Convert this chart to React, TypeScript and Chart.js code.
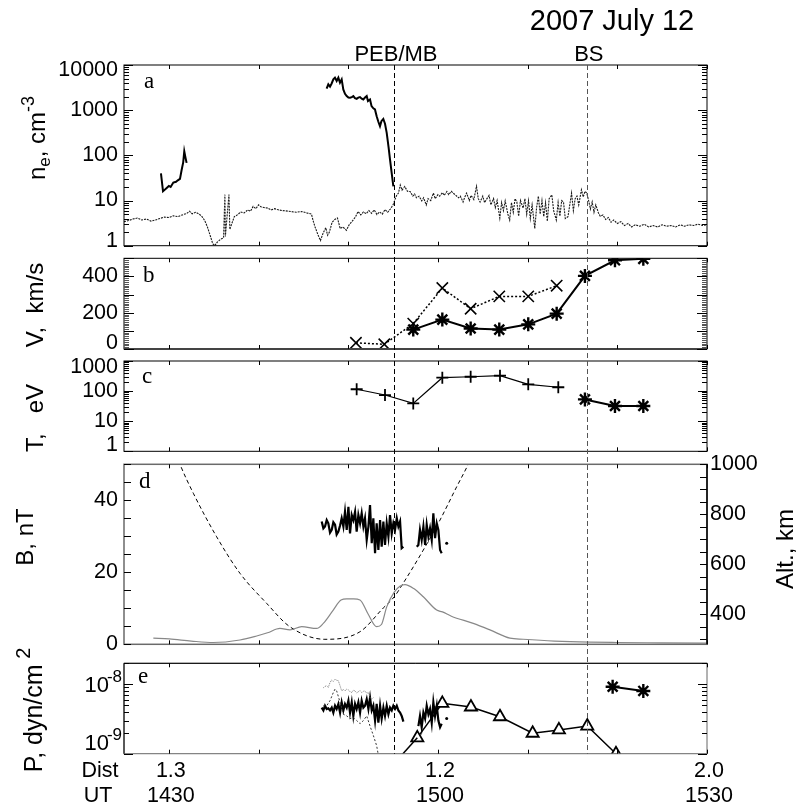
import React, { useEffect, useRef } from "react";
import { Chart, registerables } from "chart.js";
Chart.register(...registerables);

const W = 796;
const H = 810;
const SANS = '"Liberation Sans", Arial, Helvetica, sans-serif';
const SERIF = '"Liberation Serif", "Times New Roman", serif';

// ---------- x axis (minutes after 14:00 UT) ----------
const X_MIN = 25;
const X_MAX = 90;
const xTickMinutes = [30, 40, 50, 60, 70, 80, 90];
const xLabelMinutes = [30, 60, 90];
const utLabels = ["1430", "1500", "1530"];
const distLabels = ["1.3", "1.2", "2.0"];
const pebMinute = 55.1;
const bsMinute = 76.6;

type Pt = [number, number];

// ---------- panel a: electron density ----------
const neTicks = [1, 10, 100, 1000, 10000];
const neTickLabels = ["1", "10", "100", "1000", "10000"];
const neEarly: Pt[] = [[29.12,40],[29.35,16],[29.5,17],[29.76,19],[30.0,21],[30.2,20],[30.5,25],[30.8,26],[31.0,28],[31.24,30],[31.43,48],[31.6,70],[31.72,123],[31.85,90],[31.98,68]];
const neDense: Pt[] = [[47.59,2990],[47.78,3720],[47.97,3310],[48.15,3900],[48.34,4810],[48.52,5250],[48.71,4410],[48.9,5250],[49.08,4050],[49.27,4800],[49.45,2885],[49.64,2300],[49.83,2050],[50.02,1900],[50.2,1880],[50.4,1950],[50.57,2050],[50.75,1850],[50.94,1790],[51.12,1900],[51.31,1950],[51.5,1800],[51.68,1730],[51.87,1900],[52.06,2050],[52.2,1590],[52.43,1730],[52.6,1230],[52.8,1100],[52.98,1040],[53.17,736],[53.35,560],[53.54,440],[53.7,570],[53.91,640],[54.1,500],[54.29,314],[54.5,150],[54.66,80],[54.85,40],[55.03,20.5]];
const neWave: Pt[] = [[25,3.4],[25.5,3.6],[26,3.9],[26.5,4.1],[27,3.7],[27.5,3.9],[28,3.5],[28.5,3.7],[29,4.0],[29.5,4.3],[30,4.2],[30.5,4.6],[31,4.4],[31.5,4.8],[32,5.2],[32.3,5.8],[32.6,5.1],[33,5.5],[33.4,5.0],[33.7,4.4],[34.0,3.6],[34.3,2.6],[34.6,1.7],[34.9,1.1],[35.1,1.0],[35.4,1.2],[35.8,1.4],[36.1,1.5],[36.25,13.5],[36.3,1.6],[36.7,13.5],[36.8,2.3],[37.0,3.0],[37.3,4.4],[37.7,4.9],[38.0,5.6],[38.4,5.3],[38.8,6.2],[39.1,5.8],[39.4,7.4],[39.7,6.6],[40.0,8.0],[40.3,7.2],[40.6,7.0],[41.0,6.8],[41.4,6.2],[41.8,6.6],[42.1,6.3],[42.6,6.0],[43.0,5.9],[43.6,5.7],[44.2,5.5],[44.8,5.7],[45.4,5.3],[45.9,5.0],[46.1,3.5],[46.3,2.6],[46.6,1.8],[46.9,1.3],[47.2,1.9],[47.5,2.5],[47.7,1.7],[47.9,2.0],[48.2,3.3],[48.5,3.8],[48.8,4.1],[49.1,2.4],[49.4,2.6],[49.8,2.2],[50.1,2.9],[50.4,3.4],[50.8,4.3],[51.1,5.7],[51.4,4.8],[51.7,5.6],[52.0,5.1],[52.3,6.0],[52.6,5.2],[52.9,6.2],[53.2,4.9],[53.5,5.6],[53.8,5.0],[54.1,6.3],[54.4,5.5],[54.7,6.5],[55.0,8.0],[55.2,10.4],[55.4,13],[55.6,14.6],[55.8,22],[56.0,17],[56.3,20.5],[56.6,16],[56.9,15.8],[57.2,12.5],[57.4,14],[57.6,11.5],[57.9,12.5],[58.2,9.8],[58.4,11.5],[58.7,8.0],[58.9,11],[59.2,10],[59.5,14.6],[59.7,11],[60.0,13.5],[60.2,12.5],[60.5,15],[60.7,13],[61.0,15.8],[61.2,13.5],[61.5,16],[61.7,14.6],[62.0,13],[62.3,11.5],[62.5,12.5],[62.8,9.3],[63.0,12],[63.2,14.6],[63.5,10],[63.7,13],[64.0,10.5],[64.3,20.5],[64.5,11],[64.7,9.3],[65.0,12.5],[65.2,9],[65.4,10.5],[65.7,13],[65.9,8],[66.2,11],[66.4,7],[66.6,10],[66.9,4.1],[67.1,9],[67.3,6],[67.5,9.8],[67.8,5],[68.0,3.7],[68.2,9],[68.4,5.5],[68.6,11],[68.8,9.3],[69.0,4.5],[69.2,10],[69.5,6.8],[69.7,11],[69.9,5],[70.1,9.8],[70.3,4],[70.5,8],[70.8,2.4],[71.0,7],[71.2,12.5],[71.4,5],[71.6,10],[71.8,4.4],[72.0,9],[72.2,3.5],[72.4,11],[72.7,13.4],[72.9,6],[73.2,3.7],[73.4,9],[73.6,4.5],[73.8,10],[74.0,9.3],[74.2,4],[74.5,4.4],[74.7,8],[74.9,14.6],[75.1,6],[75.3,11],[75.5,12.5],[75.7,8],[76.0,17.3],[76.2,12],[76.4,16],[76.6,14.6],[76.8,10],[77.0,6.5],[77.2,9.3],[77.4,5.5],[77.6,8],[77.9,5.3],[78.1,4.5],[78.4,4.8],[78.7,3.8],[79.0,4.2],[79.3,3.3],[79.6,3.7],[80.0,3.1],[80.4,3.4],[80.8,2.8],[81.2,3.1],[81.6,2.6],[82.0,2.9],[82.5,2.7],[83,3.0],[83.5,2.6],[84,2.8],[84.5,2.6],[85,2.9],[85.5,2.7],[86,2.8],[86.5,2.6],[87,2.9],[87.5,2.7],[88,2.9],[88.5,2.8],[89,3.0],[89.5,2.8],[90,2.9]];

// ---------- panel b: velocity ----------
const vMajor = [0, 100, 200, 300, 400, 500];
const vLabelValues = [0, 200, 400];
const vCross: Pt[] = [[50.86,34],[54.02,26],[57.25,140],[60.49,336],[63.65,222],[66.84,290],[70.07,290],[73.24,349]];
const vStar: Pt[] = [[57.25,107],[60.49,162],[63.65,113],[66.84,107],[70.07,136],[73.24,195],[76.39,403],[79.74,489],[82.9,497]];

// ---------- panel c: temperature ----------
const tTicks = [1, 10, 100, 1000];
const tTickLabels = ["1", "10", "100", "1000"];
const tPlus: Pt[] = [[50.94,115],[54.1,74],[57.25,39],[60.49,279],[63.65,300],[66.92,325],[70.07,168],[73.42,134]];
const tStar: Pt[] = [[76.39,53],[79.74,32],[82.9,32]];

// ---------- panel d: magnetic field and altitude ----------
const bTickValues = [0, 5, 10, 15, 20, 25, 30, 35, 40, 45, 50];
const bLabelValues = [0, 20, 40];
const altTickValues = [300, 350, 400, 450, 500, 550, 600, 650, 700, 750, 800, 850, 900, 950, 1000];
const altLabelValues = [400, 600, 800, 1000];
const bField1: Pt[] = [[47.04,34.1],[47.23,32.2],[47.41,32.7],[47.6,34.5],[47.78,33.6],[47.97,31.0],[48.16,31.8],[48.34,33.9],[48.53,33.2],[48.71,30.5],[48.9,31.3],[49.09,33.0],[49.27,35.0],[49.46,32.7],[49.64,36.8],[49.83,31.8],[50.02,38.2],[50.2,30.8],[50.39,35.9],[50.57,34.5],[50.76,36.8],[50.94,31.3],[51.13,35.9],[51.32,33.6],[51.5,36.4],[51.69,32.7],[51.87,35.0],[52.06,29.0],[52.25,32.7],[52.43,38.7],[52.62,28.1],[52.8,35.0],[52.99,25.3],[53.17,33.6],[53.36,26.2],[53.55,34.5],[53.73,27.1],[53.92,34.1],[54.1,27.6],[54.29,33.6],[54.48,29.9],[54.66,35.9],[54.85,30.8],[55.03,33.6],[55.22,31.8],[55.41,35.0],[55.59,32.7],[55.78,34.1],[55.96,26.7],[56.15,27.1]];
const bField2: Pt[] = [[57.64,27.1],[57.82,27.6],[58.0,31.8],[58.19,29.0],[58.38,32.7],[58.57,27.6],[58.75,33.2],[58.94,29.9],[59.12,32.2],[59.31,29.0],[59.49,36.4],[59.68,29.5],[59.87,33.6],[60.05,31.8],[60.24,26.2],[60.42,25.3]];
const bFieldDot: Pt[] = [[60.98,28.1]];
const bModel: Pt[] = [[28.27,1.7],[30.05,1.5],[32.5,0.9],[34.96,0.5],[37.93,1.2],[39.79,2.3],[41.0,3.2],[42.39,4.4],[43.5,4.0],[44.81,4.9],[46.48,4.4],[47.22,5.8],[48.33,9.5],[49.2,12.3],[49.83,12.6],[50.6,12.6],[51.31,12.3],[52.2,8.5],[53.17,4.9],[53.7,5.5],[54.29,10.4],[55.13,14.5],[55.8,16.2],[56.33,16.6],[57.3,15.5],[58.37,13.2],[59.86,9.5],[60.5,9.0],[61.5,7.8],[63.94,5.8],[65.8,4.0],[68.03,1.7],[69.5,1.4],[73,0.9],[76.95,0.6],[80,0.5],[85,0.4],[89.96,0.3]];
const altitude: Pt[] = [[30.0,1120],[31.24,1000],[32.73,884],[35.33,710],[37.93,564],[40.9,444],[43.5,350],[47.4,300],[51.3,330],[53.9,425],[55.13,470],[56.14,525],[58.37,657],[60.23,777],[62.09,910],[63.38,1000],[64.5,1090]];

// ---------- panel e: pressure ----------
const pTicks = [1e-9, 1e-8];
const pTickExps = ["-9", "-8"];
const pUpper: Pt[] = [[47.23,8.9e-9],[47.41,9.3e-9],[47.6,9.5e-9],[47.78,9.0e-9],[47.97,10.6e-9],[48.16,11.5e-9],[48.34,11.0e-9],[48.53,11.8e-9],[48.71,11.4e-9],[48.9,11.2e-9],[49.09,9.5e-9],[49.27,8.0e-9],[49.46,8.4e-9],[49.64,8.0e-9],[49.83,8.5e-9],[50.02,8.3e-9],[50.2,7.8e-9],[50.39,7.6e-9],[50.57,8.2e-9],[50.76,8.0e-9],[50.94,7.5e-9],[51.13,7.8e-9],[51.32,8.1e-9],[51.5,7.6e-9],[51.69,7.9e-9],[51.87,8.0e-9],[52.06,7.4e-9],[52.25,7.6e-9],[52.43,6.4e-9],[52.62,6.1e-9],[52.8,6.4e-9]];
const pLower: Pt[] = [[47.23,4.9e-9],[47.6,4.9e-9],[47.97,5.8e-9],[48.34,7.6e-9],[48.53,8.5e-9],[48.71,8.0e-9],[49.09,5.5e-9],[49.46,3.7e-9],[49.83,3.5e-9],[50.2,3.2e-9],[50.57,3.3e-9],[50.94,3.0e-9],[51.32,2.7e-9],[51.69,3.0e-9],[52.06,3.5e-9],[52.43,2.5e-9],[52.8,1.83e-9],[53.17,1.3e-9],[53.36,0.95e-9],[53.5,0.7e-9]];
const pMeas1: Pt[] = [[47.04,4.6e-9],[47.23,4.2e-9],[47.41,4.9e-9],[47.6,4.4e-9],[47.78,4.5e-9],[47.97,4.2e-9],[48.16,4.6e-9],[48.34,3.9e-9],[48.53,4.9e-9],[48.71,4.4e-9],[48.9,5.2e-9],[49.09,3.9e-9],[49.27,5.5e-9],[49.46,4.2e-9],[49.64,5.2e-9],[49.83,4.6e-9],[50.02,5.8e-9],[50.2,3.9e-9],[50.39,5.5e-9],[50.57,3.5e-9],[50.76,5.2e-9],[50.94,4.4e-9],[51.13,5.5e-9],[51.32,3.9e-9],[51.5,5.8e-9],[51.69,4.6e-9],[51.87,4.9e-9],[52.06,6.1e-9],[52.25,4.4e-9],[52.43,6.4e-9],[52.62,4.2e-9],[52.8,4.9e-9],[52.99,3.0e-9],[53.17,5.2e-9],[53.36,2.8e-9],[53.55,4.9e-9],[53.73,3.2e-9],[53.92,4.6e-9],[54.1,3.5e-9],[54.29,4.9e-9],[54.48,3.7e-9],[54.66,4.6e-9],[54.85,4.2e-9],[55.03,4.9e-9],[55.22,4.4e-9],[55.41,4.9e-9],[55.59,4.2e-9],[55.78,3.9e-9],[55.96,3.5e-9],[56.15,2.9e-9]];
const pMeas2: Pt[] = [[57.82,2.5e-9],[58.0,3.5e-9],[58.19,2.4e-9],[58.38,3.9e-9],[58.57,3.2e-9],[58.75,4.9e-9],[58.94,3.7e-9],[59.12,4.4e-9],[59.31,2.8e-9],[59.49,5.5e-9],[59.68,3.5e-9],[59.87,4.9e-9],[60.05,3.0e-9],[60.24,2.4e-9],[60.42,2.7e-9]];
const pMeasDot: Pt[] = [[60.98,3.2e-9]];
const pLeadIn: Pt[] = [[54.0,0.5e-9],[57.7,1.69e-9]];
const pTriangle: Pt[] = [[57.7,1.69e-9],[60.49,5.3e-9],[63.68,4.7e-9],[66.92,3.4e-9],[70.56,1.97e-9],[73.49,2.2e-9],[76.65,2.5e-9],[79.85,1.0e-9]];
const pStar: Pt[] = [[79.48,9.2e-9],[82.9,8.0e-9]];

// ---------- layout ----------
const PLOT_LEFT = 124;
const PLOT_RIGHT = 707;
const PANELS = {
  a: { top: 65, bottom: 245.7 },
  b: { top: 258.3, bottom: 349 },
  c: { top: 361, bottom: 451.3 },
  d: { top: 464.3, bottom: 644.3 },
  e: { top: 663.3, bottom: 753.7 },
};

const toXY = (a: Pt[]) => a.map(([x, y]) => ({ x, y }));
function ds(data: Pt[], opts: any) {
  return { data: toXY(data), pointRadius: 0, borderColor: "#000", borderWidth: 1, tension: 0, fill: false, ...opts };
}
function logMinor(min: number, max: number) {
  const out: number[] = [];
  for (let e = Math.floor(Math.log10(min)) - 1; e <= Math.ceil(Math.log10(max)); e++) {
    for (let m = 2; m <= 9; m++) {
      const v = m * Math.pow(10, e);
      if (v >= min * 0.9999 && v <= max * 1.0001) out.push(v);
    }
  }
  return out;
}

type Part = { t: string; size: number; dy?: number };

function rotText(ctx: CanvasRenderingContext2D, x: number, yc: number, parts: Part[]) {
  ctx.save();
  const widths = parts.map((p) => {
    ctx.font = `${p.size}px ${SANS}`;
    return ctx.measureText(p.t).width;
  });
  const total = widths.reduce((s, w) => s + w, 0);
  ctx.translate(x, yc);
  ctx.rotate(-Math.PI / 2);
  ctx.fillStyle = "#000";
  ctx.textAlign = "left";
  ctx.textBaseline = "alphabetic";
  let cx = -total / 2;
  parts.forEach((p, i) => {
    ctx.font = `${p.size}px ${SANS}`;
    ctx.fillText(p.t, cx, p.dy ?? 0);
    cx += widths[i];
  });
  ctx.restore();
}

function frame(c: any, color = "#000", lw = 1) {
  const { ctx, chartArea: a } = c;
  ctx.save();
  ctx.strokeStyle = color;
  ctx.lineWidth = lw;
  ctx.strokeRect(a.left, a.top, a.right - a.left, a.bottom - a.top);
  ctx.restore();
}

function xTicksTB(c: any, len = 4) {
  const { ctx, chartArea: a } = c;
  const s = c.scales.x;
  ctx.save();
  ctx.strokeStyle = "#000";
  ctx.lineWidth = 1;
  ctx.beginPath();
  for (const v of xTickMinutes) {
    const x = Math.round(s.getPixelForValue(v)) + 0.5;
    ctx.moveTo(x, a.top);
    ctx.lineTo(x, a.top + len);
    ctx.moveTo(x, a.bottom);
    ctx.lineTo(x, a.bottom - len);
  }
  ctx.stroke();
  ctx.restore();
}

function yTicks(c: any, id: string, vals: number[], len: number, side: "left" | "right", color = "#000") {
  const { ctx, chartArea: a } = c;
  const s = c.scales[id];
  ctx.save();
  ctx.strokeStyle = color;
  ctx.lineWidth = 1;
  ctx.beginPath();
  for (const v of vals) {
    const y = Math.round(s.getPixelForValue(v)) + 0.5;
    if (y < a.top - 1 || y > a.bottom + 1) continue;
    if (side === "left") {
      ctx.moveTo(a.left, y);
      ctx.lineTo(a.left + len, y);
    } else {
      ctx.moveTo(a.right, y);
      ctx.lineTo(a.right - len, y);
    }
  }
  ctx.stroke();
  ctx.restore();
}

function yLabels(c: any, id: string, vals: number[], texts: string[], side: "left" | "right", clamp: number | null) {
  const { ctx, chartArea: a } = c;
  const s = c.scales[id];
  ctx.save();
  ctx.fillStyle = "#000";
  ctx.font = `21.5px ${SANS}`;
  ctx.textBaseline = "middle";
  ctx.textAlign = side === "left" ? "right" : "left";
  vals.forEach((v, i) => {
    let y = s.getPixelForValue(v);
    if (clamp !== null) y = Math.min(Math.max(y, a.top + clamp), a.bottom - clamp);
    const x = side === "left" ? a.left - 6 : a.right + 3;
    ctx.fillText(texts[i], x, y);
  });
  ctx.restore();
}

function letter(c: any, t: string, dx: number, dy: number) {
  const { ctx, chartArea: a } = c;
  ctx.save();
  ctx.fillStyle = "#000";
  ctx.font = `23px ${SERIF}`;
  ctx.textAlign = "left";
  ctx.textBaseline = "alphabetic";
  ctx.fillText(t, a.left + dx, a.top + dy);
  ctx.restore();
}

function makeConfig(panel: { top: number; bottom: number }, datasets: any[], scales: any, draw: (c: any) => void) {
  return {
    type: "line",
    data: { datasets },
    options: {
      responsive: false,
      animation: false,
      events: [],
      devicePixelRatio: 1,
      layout: { padding: { left: PLOT_LEFT, right: W - PLOT_RIGHT, top: panel.top, bottom: H - panel.bottom } },
      plugins: { legend: { display: false }, tooltip: { enabled: false } },
      scales: { x: { type: "linear", min: X_MIN, max: X_MAX, display: false }, ...scales },
    },
    plugins: [{ id: "deco", afterDraw: (c: any) => draw(c) }],
  } as any;
}

const STAR = { pointStyle: "star", pointRadius: 7, pointBorderWidth: 2.4, pointBorderColor: "#000" };

// ---------- configs ----------
function configA() {
  const minor = logMinor(1, 10000);
  return makeConfig(
    PANELS.a,
    [
      ds(neWave, { borderColor: "#1a1a1a", borderWidth: 1.1, borderDash: [2, 1] }),
      ds(neEarly, { borderWidth: 2 }),
      ds(neDense, { borderWidth: 2 }),
    ],
    { y: { type: "logarithmic", min: 1, max: 10000, display: false } },
    (c) => {
      frame(c);
      xTicksTB(c);
      yTicks(c, "y", neTicks, 9, "left");
      yTicks(c, "y", neTicks, 9, "right");
      yTicks(c, "y", minor, 5, "left");
      yTicks(c, "y", minor, 5, "right");
      yLabels(c, "y", neTicks, neTickLabels, "left", 5);
      letter(c, "a", 20, 23);
      rotText(c.ctx, 45, 138, [
        { t: "n", size: 24 },
        { t: "e", size: 17, dy: 5 },
        { t: ", cm", size: 24 },
        { t: "-3", size: 18, dy: -11 },
      ]);
    }
  );
}

function configB() {
  const minor: number[] = [];
  for (let v = 0; v <= 500; v += 10) minor.push(v);
  return makeConfig(
    PANELS.b,
    [
      ds(vCross, { borderWidth: 1.5, borderDash: [2, 2], pointStyle: "crossRot", pointRadius: 8, pointBorderWidth: 1.6, pointBorderColor: "#000" }),
      ds(vStar, { borderWidth: 2, ...STAR }),
    ],
    { y: { type: "linear", min: 0, max: 500, display: false } },
    (c) => {
      frame(c);
      const { ctx, chartArea: a } = c;
      ctx.save();
      ctx.strokeStyle = "#444";
      ctx.lineWidth = 2;
      ctx.beginPath();
      ctx.moveTo(a.left, a.bottom);
      ctx.lineTo(a.right, a.bottom);
      ctx.stroke();
      ctx.restore();
      xTicksTB(c);
      yTicks(c, "y", minor, 5, "left", "#555");
      yTicks(c, "y", minor, 5, "right", "#555");
      yTicks(c, "y", vMajor, 10, "left");
      yTicks(c, "y", vMajor, 10, "right");
      yLabels(c, "y", vLabelValues, vLabelValues.map(String), "left", 6);
      letter(c, "b", 19, 24);
      rotText(c.ctx, 43, 305, [{ t: "V,  km/s", size: 24 }]);
    }
  );
}

function configC() {
  const minor = logMinor(1, 1000);
  return makeConfig(
    PANELS.c,
    [
      ds(tPlus, { borderWidth: 1.2, pointStyle: "cross", pointRadius: 6, pointBorderWidth: 1.8, pointBorderColor: "#000" }),
      ds(tStar, { borderWidth: 2, ...STAR }),
    ],
    { y: { type: "logarithmic", min: 1, max: 1000, display: false } },
    (c) => {
      frame(c);
      xTicksTB(c);
      yTicks(c, "y", tTicks, 9, "left");
      yTicks(c, "y", tTicks, 9, "right");
      yTicks(c, "y", minor, 5, "left");
      yTicks(c, "y", minor, 5, "right");
      yLabels(c, "y", tTicks, tTickLabels, "left", 6.5);
      letter(c, "c", 18, 22);
      rotText(c.ctx, 43, 418, [{ t: "T,   eV", size: 24 }]);
    }
  );
}

function configD() {
  return makeConfig(
    PANELS.d,
    [
      ds(bModel, { borderColor: "#888", borderWidth: 1.2, cubicInterpolationMode: "monotone" }),
      ds(altitude, { yAxisID: "y2", borderWidth: 1, borderDash: [4, 3], cubicInterpolationMode: "monotone" }),
      ds(bField1, { borderWidth: 2.2 }),
      ds(bField2, { borderWidth: 2.2 }),
      ds(bFieldDot, { showLine: false, pointRadius: 1.5, pointBackgroundColor: "#000", pointBorderWidth: 0 }),
    ],
    {
      y: { type: "linear", min: 0, max: 50, display: false },
      y2: { type: "linear", min: 280, max: 1000, display: false, position: "right" },
    },
    (c) => {
      frame(c, "#6a6a6a", 1.5);
      const { ctx, chartArea: a } = c;
      ctx.save();
      ctx.strokeStyle = "#000";
      ctx.lineWidth = 1.5;
      ctx.beginPath();
      ctx.moveTo(a.right, a.top);
      ctx.lineTo(a.right, a.bottom);
      ctx.stroke();
      ctx.restore();
      xTicksTB(c);
      yTicks(c, "y", bTickValues, 7, "left");
      yTicks(c, "y2", altTickValues, 7, "right");
      yLabels(c, "y", bLabelValues, bLabelValues.map(String), "left", null);
      yLabels(c, "y2", altLabelValues, altLabelValues.map(String), "right", null);
      letter(c, "d", 15, 24);
      rotText(c.ctx, 33, 537, [{ t: "B, nT", size: 24 }]);
      rotText(c.ctx, 793, 549, [{ t: "Alt., km", size: 24 }]);
    }
  );
}

function configE() {
  const minor = logMinor(1e-9, 2e-8);
  return makeConfig(
    PANELS.e,
    [
      ds(pUpper, { borderColor: "#777", borderWidth: 1, borderDash: [1, 1] }),
      ds(pLower, { borderColor: "#333", borderWidth: 1, borderDash: [2, 2], clip: 0 }),
      ds(pMeas1, { borderWidth: 2.2 }),
      ds(pMeas2, { borderWidth: 2.2 }),
      ds(pMeasDot, { showLine: false, pointRadius: 1.5, pointBackgroundColor: "#000", pointBorderWidth: 0 }),
      ds(pLeadIn, { borderWidth: 1.5, clip: 0 }),
      ds(pTriangle, { borderWidth: 1.5, pointStyle: "triangle", pointRadius: 7, pointBorderWidth: 1.8, pointBorderColor: "#000", pointBackgroundColor: "#fff" }),
      ds(pStar, { borderWidth: 2, ...STAR }),
    ],
    { y: { type: "logarithmic", min: 1e-9, max: 2e-8, display: false } },
    (c) => {
      const { ctx, chartArea: a } = c;
      frame(c, "#666");
      ctx.save();
      ctx.strokeStyle = "#000";
      ctx.lineWidth = 1;
      ctx.beginPath();
      ctx.moveTo(a.left, a.bottom);
      ctx.lineTo(a.left, a.top);
      ctx.lineTo(a.right, a.top);
      ctx.stroke();
      ctx.restore();
      xTicksTB(c);
      yTicks(c, "y", pTicks, 9, "left");
      yTicks(c, "y", pTicks, 9, "right");
      yTicks(c, "y", minor, 5, "left");
      yTicks(c, "y", minor, 5, "right");
      // exponent labels
      const s = c.scales.y;
      ctx.save();
      ctx.fillStyle = "#000";
      ctx.textBaseline = "alphabetic";
      pTicks.forEach((v, i) => {
        let y = s.getPixelForValue(v);
        y = Math.min(y, a.bottom - 11.5);
        ctx.font = `17px ${SANS}`;
        const supW = ctx.measureText(pTickExps[i]).width;
        const supX = a.left - 2 - supW;
        ctx.textAlign = "left";
        ctx.fillText(pTickExps[i], supX, y - 2);
        ctx.font = `22px ${SANS}`;
        ctx.textAlign = "right";
        ctx.fillText("10", supX + 2, y + 8);
      });
      ctx.restore();
      letter(c, "e", 14, 20);
      rotText(c.ctx, 42, 710, [
        { t: "P, dyn/cm", size: 25 },
        { t: " 2", size: 20, dy: -12 },
      ]);
      // ---------- page-level annotations ----------
      const sx = c.scales.x;
      const topY = PANELS.a.top;
      const botY = PANELS.e.bottom;
      ctx.save();
      ctx.lineWidth = 1;
      ctx.setLineDash([5, 3]);
      ctx.strokeStyle = "#000";
      let x = Math.round(sx.getPixelForValue(pebMinute)) + 0.5;
      ctx.beginPath();
      ctx.moveTo(x, topY);
      ctx.lineTo(x, botY);
      ctx.stroke();
      ctx.strokeStyle = "#555";
      x = Math.round(sx.getPixelForValue(bsMinute)) + 0.5;
      ctx.beginPath();
      ctx.moveTo(x, topY);
      ctx.lineTo(x, botY);
      ctx.stroke();
      ctx.setLineDash([]);
      ctx.fillStyle = "#000";
      ctx.textAlign = "center";
      ctx.textBaseline = "alphabetic";
      ctx.font = `22px ${SANS}`;
      ctx.fillText("PEB/MB", sx.getPixelForValue(pebMinute) + 2, 61);
      ctx.fillText("BS", sx.getPixelForValue(bsMinute) + 2, 61);
      ctx.font = `29px ${SANS}`;
      ctx.fillText("2007 July 12", 612, 30);
      ctx.font = `21.5px ${SANS}`;
      xLabelMinutes.forEach((m, i) => {
        const px = sx.getPixelForValue(m) + 2;
        ctx.fillText(distLabels[i], px, 777);
        ctx.fillText(utLabels[i], px, 802);
      });
      ctx.fillText("Dist", 100, 777);
      ctx.fillText("UT", 98, 802);
      ctx.restore();
    }
  );
}

export default function App() {
  const rA = useRef<HTMLCanvasElement>(null);
  const rB = useRef<HTMLCanvasElement>(null);
  const rC = useRef<HTMLCanvasElement>(null);
  const rD = useRef<HTMLCanvasElement>(null);
  const rE = useRef<HTMLCanvasElement>(null);
  useEffect(() => {
    const charts = [
      new Chart(rA.current!, configA()),
      new Chart(rB.current!, configB()),
      new Chart(rC.current!, configC()),
      new Chart(rD.current!, configD()),
      new Chart(rE.current!, configE()),
    ];
    return () => charts.forEach((ch) => ch.destroy());
  }, []);
  const cs: React.CSSProperties = { position: "absolute", left: 0, top: 0 };
  return (
    <div style={{ position: "absolute", left: 0, top: 0, width: W, height: H, background: "#fff" }}>
      <canvas ref={rA} width={W} height={H} style={cs} />
      <canvas ref={rB} width={W} height={H} style={cs} />
      <canvas ref={rC} width={W} height={H} style={cs} />
      <canvas ref={rD} width={W} height={H} style={cs} />
      <canvas ref={rE} width={W} height={H} style={cs} />
    </div>
  );
}
